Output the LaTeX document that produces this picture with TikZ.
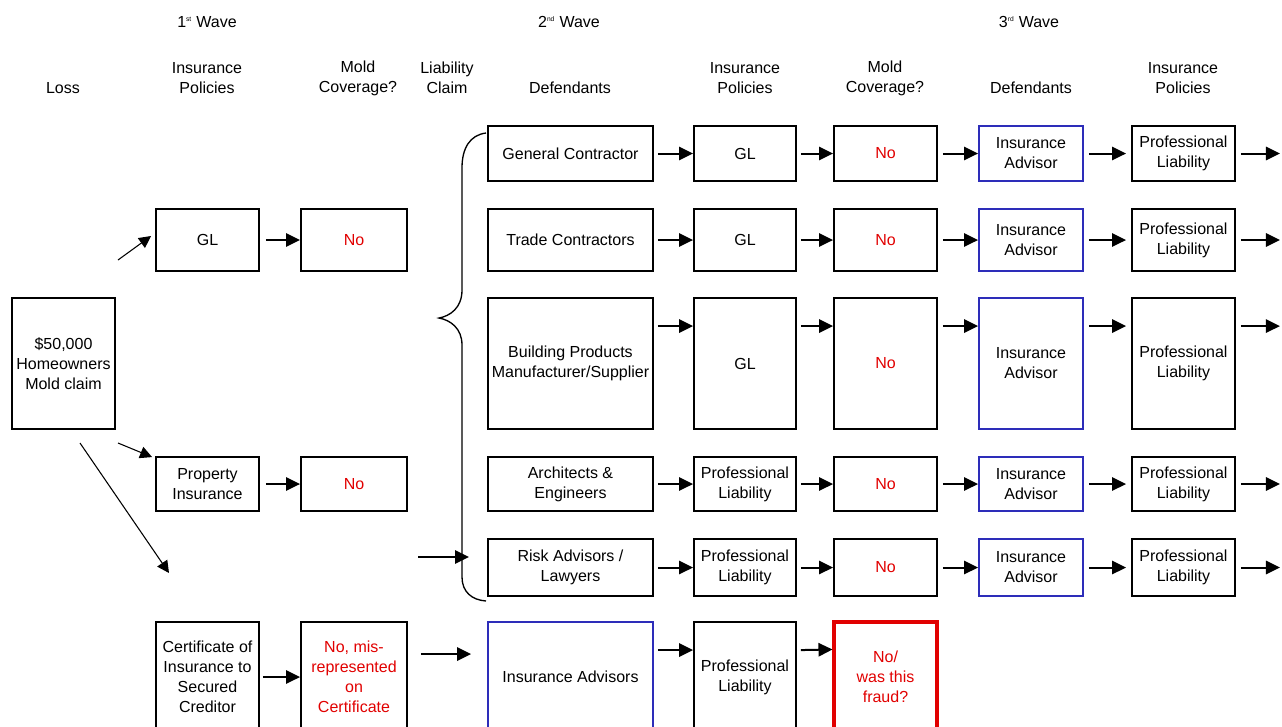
\documentclass[tikz,border=0pt]{standalone}
\usepackage{fontspec}
\setmainfont{Liberation Sans}
\usetikzlibrary{arrows.meta,calc}
\definecolor{myred}{RGB}{225,0,0}
\definecolor{myblue}{RGB}{45,45,185}
\begin{document}
\begin{tikzpicture}[x=0.75pt,y=-0.75pt,
  every node/.style={font=\fontsize{12}{15}\selectfont, align=center, inner sep=0pt},
  box/.style 2 args={draw, line width=1.4pt, minimum width=#1*0.75pt, minimum height=#2*0.75pt},
  redtxt/.style={text=myred},
  bluebox/.style={draw=myblue},
  fraudbox/.style={draw=myred, line width=2.3pt, text=myred},
  arr/.style={line width=1.5pt, -{Triangle[length=10.5pt,width=10pt]}},
  thin/.style={line width=0.8pt, -{Triangle[length=9pt,width=9pt]}},
  hdr/.style={font=\fontsize{12}{15}\selectfont}
]
\useasboundingbox (0,0) rectangle (1282,726);
\clip (0,0) rectangle (1282,726);

% headers
\newcommand\supx[1]{\textsuperscript{\fontsize{5}{5}\selectfont #1}}
\node[hdr] (w1) at (207,22) {1\supx{st} Wave};
\node[hdr] (w2) at (569,22) {2\supx{nd} Wave};
\node[hdr] (w3) at (1029,22) {3\supx{rd} Wave};
\node[hdr] (hl) at (63,88) {Loss};
\node[hdr] (h1) at (207,78) {Insurance\\Policies};
\node[hdr] (h2) at (358,78) {Mold\\Coverage?};
\node[hdr] (h3) at (447,78) {Liability\\Claim};
\node[hdr] (h4) at (570,88) {Defendants};
\node[hdr] (h5) at (745,78) {Insurance\\Policies};
\node[hdr] (h6) at (885,78) {Mold\\Coverage?};
\node[hdr] (h7) at (1031,88) {Defendants};
\node[hdr] (h8) at (1183,78) {Insurance\\Policies};

% loss
\node[box={103}{131}] (loss) at (63.5,363.5) {\$50,000\\Homeowners\\Mold claim};

% column B
\node[box={103}{62}] (b2) at (207.5,240) {GL};
\node[box={103}{54}] (b4) at (207.5,484) {Property\\Insurance};
\node[box={103}{110}] (b6) at (207.5,677) {Certificate of\\Insurance to\\Secured\\Creditor};

% column C
\node[box={106}{62},redtxt] (c2) at (354,240) {No};
\node[box={106}{54},redtxt] (c4) at (354,484) {No};
\node[box={106}{110},redtxt] (c6) at (354,677) {No, mis-\\represented\\on\\Certificate};

% column D
\node[box={165}{55}] (d1) at (570.5,153.5) {General Contractor};
\node[box={165}{62}] (d2) at (570.5,240) {Trade Contractors};
\node[box={165}{131}] (d3) at (570.5,363.5) {Building Products\\Manufacturer/Supplier};
\node[box={165}{54}] (d4) at (570.5,484) {Architects \&\\Engineers};
\node[box={165}{57}] (d5) at (570.5,567.5) {Risk Advisors /\\Lawyers};
\node[box={165}{110},bluebox] (d6) at (570.5,677) {Insurance Advisors};

% column E
\node[box={102}{55}] (e1) at (745,153.5) {GL};
\node[box={102}{62}] (e2) at (745,240) {GL};
\node[box={102}{131}] (e3) at (745,363.5) {GL};
\node[box={102}{54}] (e4) at (745,484) {Professional\\Liability};
\node[box={102}{57}] (e5) at (745,567.5) {Professional\\Liability};
\node[box={102}{110}] (e6) at (745,677) {Professional\\Liability};

% column F
\node[box={103}{55},redtxt] (f1) at (885.5,153.5) {No};
\node[box={103}{62},redtxt] (f2) at (885.5,240) {No};
\node[box={103}{131},redtxt] (f3) at (885.5,363.5) {No};
\node[box={103}{54},redtxt] (f4) at (885.5,484) {No};
\node[box={103}{57},redtxt] (f5) at (885.5,567.5) {No};
\node[box={103}{110},fraudbox] (f6) at (885.5,677) {No/\\was this\\fraud?};

% column G
\node[box={104}{55},bluebox] (g1) at (1031,153.5) {Insurance\\Advisor};
\node[box={104}{62},bluebox] (g2) at (1031,240) {Insurance\\Advisor};
\node[box={104}{131},bluebox] (g3) at (1031,363.5) {Insurance\\Advisor};
\node[box={104}{54},bluebox] (g4) at (1031,484) {Insurance\\Advisor};
\node[box={104}{57},bluebox] (g5) at (1031,567.5) {Insurance\\Advisor};

% column H
\node[box={103}{55}] (h1b) at (1183.5,153.5) {Professional\\Liability};
\node[box={103}{62}] (h2b) at (1183.5,240) {Professional\\Liability};
\node[box={103}{131}] (h3b) at (1183.5,363.5) {Professional\\Liability};
\node[box={103}{54}] (h4b) at (1183.5,484) {Professional\\Liability};
\node[box={103}{57}] (h5b) at (1183.5,567.5) {Professional\\Liability};

% free ends
\coordinate (o1) at ($(h1b.east)+(44,0)$);
\coordinate (o2) at ($(h2b.east)+(44,0)$);
\coordinate (o3) at ($(h3b.north east)+(44,29)$);
\coordinate (o4) at ($(h4b.east)+(44,0)$);
\coordinate (o5) at ($(h5b.east)+(44,0)$);

% main row arrows
\foreach \r in {1,2,4,5} {
  \draw[arr] ([xshift=3pt]d\r.east) -- (e\r.west);
  \draw[arr] ([xshift=3pt]e\r.east) -- (f\r.west);
  \draw[arr] ([xshift=3.75pt]f\r.east) -- (g\r.west);
  \draw[arr] ([xshift=3.75pt]g\r.east) -- ([xshift=-3.75pt]h\r b.west);
  \draw[arr] ([xshift=3.75pt]h\r b.east) -- (o\r);
}
\draw[arr] ($(d3.north east)+(4,29)$) -- ($(e3.north west)+(0,29)$);
\draw[arr] ($(e3.north east)+(4,29)$) -- ($(f3.north west)+(0,29)$);
\draw[arr] ($(f3.north east)+(5,29)$) -- ($(g3.north west)+(0,29)$);
\draw[arr] ($(g3.north east)+(5,29)$) -- ($(h3b.north west)+(-5,29)$);
\draw[arr] ($(h3b.north east)+(5,29)$) -- (o3);

% first wave arrows
\draw[arr] ([xshift=4.5pt]b2.east) -- (c2.west);
\draw[arr] ([xshift=4.5pt]b4.east) -- (c4.west);
\draw[arr] ([xshift=2.25pt]b6.east) -- (c6.west);

% bottom row
\draw[arr] ($(c6.north east)+(13,33)$) -- ($(d6.north west)+(-16,33)$);
\draw[arr] ($(d6.north east)+(4,29)$) -- ($(e6.north west)+(0,29)$);
\draw[arr] ($(e6.north east)+(4,29)$) -- ($(f6.north west)+(0,29)$);

% loss arrows
\coordinate (s1) at (118,260);
\coordinate (s2) at (118,443);
\coordinate (s3) at (80,443);
\coordinate (t3) at (169,573);
\draw[thin] (s1) -- ($(b2.west)+(-4,-4)$);
\draw[thin] (s2) -- ($(b4.north west)+(-3,1)$);
\draw[thin] (s3) -- (t3);

% liability claim arrow
\coordinate (lc1) at (418,557);
\coordinate (lc2) at (469,557);
\draw[arr] (lc1) -- (lc2);

% brace
\draw[line width=1pt] (486,133) .. controls (470,135) and (462,148) .. (462,168)
  -- (462,290) .. controls (462,308) and (450,316) .. (439,318)
  .. controls (450,320) and (462,328) .. (462,345)
  -- (462,577) .. controls (462,592) and (472,600) .. (486,601);
\end{tikzpicture}
\end{document}
